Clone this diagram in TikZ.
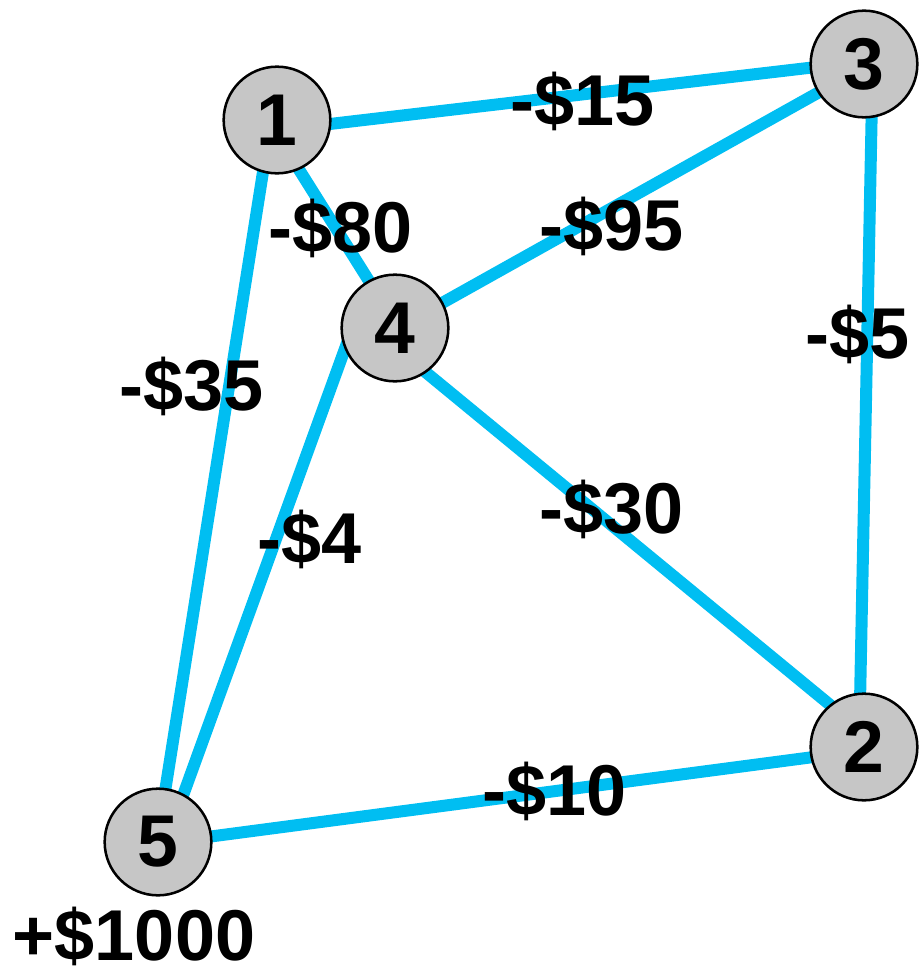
\documentclass[tikz,border=0pt]{standalone}
\usepackage{fontspec}
\setmainfont{Liberation Sans}
\usetikzlibrary{backgrounds}
\definecolor{edgeblue}{RGB}{0,190,242}
\definecolor{nodegray}{RGB}{198,198,198}
\tikzset{
  vertex/.style={circle, draw=black, line width=1.9pt, fill=nodegray, minimum size=80pt, inner sep=0pt, font=\fontsize{55}{60}\selectfont\bfseries},
  edge/.style={draw=edgeblue, line width=9pt, shorten <=-8pt, shorten >=-8pt},
  cost/.style={anchor=base, inner sep=0pt, font=\fontsize{54}{60}\selectfont\bfseries}
}
\begin{document}
\begin{tikzpicture}[x=0.75pt, y=-0.75pt]
\useasboundingbox (0,0) rectangle (919,978);
\node[vertex] (n1) at (277,120) {1};
\node[vertex] (n3) at (864,64) {3};
\node[vertex] (n4) at (395,328) {4};
\node[vertex] (n2) at (864,747) {2};
\node[vertex] (n5) at (158,842) {5};
\begin{pgfonlayer}{background}
\draw[edge] (n1.-4) -- (n3.184);
\draw[edge] (n1.294) -- (n4.119);
\draw[edge] (n1.255) -- (n5.82);
\draw[edge] (n3.212) -- (n4.28);
\draw[edge] (n3.278) -- (n2.94);
\draw[edge] (n4.203) -- (n5.62);
\draw[edge] (n4.305) -- (n2.129);
\draw[edge] (n5.6) -- (n2.191);
\end{pgfonlayer}
\node[cost] (l13) at (583,125) {-\$15};
\node[cost] (l14) at (341,252) {-\$80};
\node[cost] (l34) at (612,250) {-\$95};
\node[cost] (l32) at (858,358) {-\$5};
\node[cost] (l15) at (192,410) {-\$35};
\node[cost] (l45) at (310,563) {-\$4};
\node[cost] (l42) at (612,533) {-\$30};
\node[cost] (l52) at (555,815) {-\$10};
\node[cost] (l5) at (134,960) {+\$1000};
\end{tikzpicture}
\end{document}
